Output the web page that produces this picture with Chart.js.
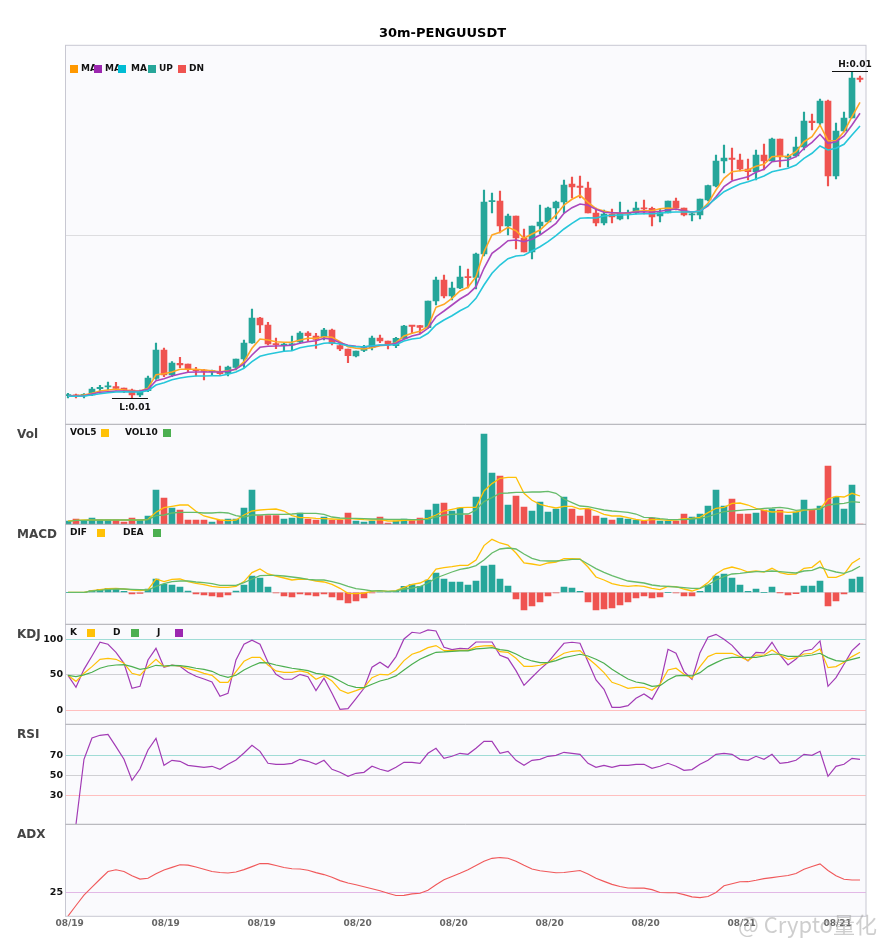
<!DOCTYPE html>
<html>
<head>
<meta charset="utf-8">
<style>
  html, body { margin: 0; padding: 0; background: #fff; }
  canvas { display: block; }
</style>
<script src="https://cdn.jsdelivr.net/npm/chart.js@4/dist/chart.umd.min.js"></script>
</head>
<body>
<canvas id="kline" width="885" height="950"></canvas>
<script>
// price is in relative units, the real quote isn't readable off the picture
const open = [
  29.3,29.6,29,30,36.3,38,38.3,37,35,30,
  34.3,46.7,75,50,61.7,61,55,54.3,53.3,53.3,
  51.7,57.7,66,82,107,100,81.3,79.7,80,83,
  92,89,88.3,95,79.3,76,69,74.7,77.3,87,
  84,79.3,86.7,99.3,99.3,97.3,124,145,129,137,
  148,147.7,171,223.3,224,199,209,187,173,199,
  203,217,223,241,238,237,212,202,211,206,
  211,212,217,216.7,209,212,224,217,210,210,
  225,239,264,266.7,265,256,253.3,270,264,286,
  267,269,278,304,302,324,249,294,307,346.7];
const close = [
  29.6,29,30.7,36,37.7,38.4,36.7,35.3,30,33,
  47,75,50,62,60,55.7,54.3,53.7,54,51.3,
  58,66,82,107,100,81,80.3,80.7,81,92,
  89.3,85.7,95,81.7,76,69.3,74,77.3,87,84,
  80.3,86.7,99,98.7,97.7,124,145,129,137,148,
  147.3,171,223,224,199,209,187,173,199,203,
  217,223,240,238,237.7,212,202,211,208,211.7,
  212,217,216,208,212.3,224,217,210,210.7,226,
  239.3,264,267,265.7,256,253.3,270,264,286,268,
  269,278,304,302.3,324,249,294,307,347,345.7];
const high = [
  31.7,31,31.5,37.7,39.7,43,42.7,37,36,35,
  49,82,77,63.3,67.7,61,57.7,55.7,55,59,
  59,66,85,116,107.7,102.7,87,81.7,89,93.3,
  93.3,91.7,96.7,96,81.7,76,74,79.7,89,90,
  84,87.7,99.7,99.7,99.7,124,148,150,143,159,
  156,172,235,232,234,211,209,196,199,220,
  218,224,245,248,249,243,217,215,216,223,
  215,223,225,218,216,224,227,217,213,226,
  240,270,280,277,271,266,275,281,287,286,
  271,288,313,311,326,325,302,313,353.5,349];
const low = [
  27,27,27,29.3,34,35,35,32.3,26.7,28.3,
  33.3,45.7,48.3,48.3,57.3,53.3,49,45,50.3,50.7,
  49,55,57.7,81.7,92.3,80,76.3,74,74.3,81.7,
  83.3,76.7,85,80,74.3,62.3,68,73.3,75,82.3,
  76,77.3,86.7,91.7,91.7,96.7,120,127,125,136.3,
  137,136,169,212,192,190,176,173,166,191,
  203,206,212,227,227,212,199,200,202,205,
  206,211,211,199,203,212,215,209,204,206,
  224,238,252,245,254,245,245,255,264,258,
  258,268,275,295,300,239,246,293,307,343];

const ma1 = [
  29.3,29.3,30,31.7,34,35,35.7,35,34.3,34,36.7,50.3,51.3,53,55.7,55.7,55.7,55,54.3,53.3,54.3,55.7,63.3,76.7,86,85,83.3,82.7,82.7,85,86.7,86.7,88.3,
  87.7,83.3,78.3,76.7,76,77.3,79.3,80,82.3,89,91.7,93.7,98.3,117.7,120.7,126.7,134,137.7,148.3,173.3,190,192.7,197.7,194.3,186.7,191,195,202.3,210,220,225.7,229.7,222.7,216.3,
  214,212.3,211.7,211.7,213.7,214.3,214.3,216.3,217,216.3,213.7,212.7,214,221.7,235,246.7,253.3,254.3,255,258.7,260.7,268.3,269,268.3,273.3,283.3,288.3,300,284.3,284.3,293.3,308.3,322.7];
const ma2 = [
  29,29,29.3,31,32.7,33.3,34,34,33.7,34,35.7,44.3,46.3,49,51,52.7,53,53,53,53,53.7,56,61,70,77.7,78.7,79,79.3,79.7,81.7,83.3,84.3,86.7,
  85.7,82.3,79.7,78.7,78,79,79.7,80,81.7,85.7,89,91,96.7,108.3,114,120,126,130.7,138.3,156.7,171.7,177.7,184.3,185,183.3,185.7,190,195.7,201.7,211.7,217.3,221,219.7,215.7,
  212.7,212.3,212,212.3,213,213.3,212.7,213.7,215,216,214.3,213,214,219,228.3,238.3,244,246.3,248.3,252.7,255.7,263.3,264.3,265,268.3,276.7,282.7,290.7,281.7,283.3,289,300,311.7];
const ma3 = [
  28.7,28.7,29,30,31.3,32.3,33,33.3,33,33,34.3,40,42.3,45.3,47,48.3,49,49,49.3,49.3,50.7,53,56.7,63.3,68.7,70.7,72.3,73.7,74.3,77.3,78.7,79.7,81.7,
  82.3,81,79.3,78.3,78.3,79.3,80,80,80.3,84,86,87,91.7,100,105,109.3,114.3,118.3,126.7,140,151.7,160,166.3,169,169.7,174,178.3,183.3,189.3,196,201.7,206.7,207.3,207,
  209,209.7,210,210.3,211,211.3,211.3,211.7,212.7,213,213,213,213.7,220,226.7,233.3,237.3,241,243.3,246,249,253.3,255,256.7,260,266.7,271.7,279,275,276.7,280.7,290,299];

const vol = [
  3.3,5.3,3.3,6.3,4.3,4.3,4.3,2.3,6.3,4.3,8.3,34.3,26.3,16.3,14.3,4.3,4.3,4.3,2.3,4.3,5.3,5.3,16.3,34.3,8.7,8.7,8.7,5.3,6.3,11.3,
  5.3,4.3,7.3,4.3,4.3,11.3,3.3,2.3,3.3,7.3,1.3,3.3,5.3,3.7,6.3,14.3,20.3,21.3,13.3,16.3,9.3,27.3,90.3,51.3,48.3,19.3,28.3,17.3,13.3,22.3,12.3,15.3,27.3,15.3,8.3,15.3,8.3,
  6.3,4.3,6.3,5.3,4.3,3.3,6.3,3.3,3.3,3.3,10.3,7.3,10.3,18.3,34.3,18.3,25.3,10.3,10.3,11.3,14.3,15.3,14.3,9.3,12.3,24.3,14.3,18.3,58.3,27.3,15.3,39.3,0.3];
const vol5 = [
  3.3,4,4.3,4.3,4.3,4.3,4.3,4.3,4.3,4.3,5,12,16.7,18,19.3,19.3,13,8.3,6.3,4.3,3.7,4.3,9.3,13.3,14.3,15,15.3,13.3,8.7,6.7,
  6.7,6,5.7,5.3,5,6,5.3,4.7,4.3,4.7,3.3,3.3,4,4.3,4.7,6,9.3,13.3,15,16.7,17,17,33.3,40.7,46,47,47,31,24,20,18,16.3,18,18,15.3,16,13.3,
  10,8.3,8.3,6.7,5,3.7,4.7,4.7,4,4.3,5.7,6,7,11.7,16,17,21,21.3,19.3,16,14,12.3,12.7,12,12.3,14.3,14.7,15.3,25.3,28,27.3,31,28.3];
const vol10 = [
  2.7,4,4,4.3,4.3,4.3,4.3,4.3,4.3,4.3,4.7,8.7,9.3,11.3,12,12,12,11.3,11.3,12,11.3,8.7,7.3,9.3,9.3,10,10,10,10.3,11,
  11,11,10,7.3,6.3,6,6,5.7,5.3,5.3,5,5,5,4.7,4.7,5,7.3,9.3,10,10.3,10.3,14.3,22.7,26.7,31,31.3,32,32,32.3,32.3,33,31,25.3,21.7,18.3,17.7,16,
  14.3,13.3,12.7,12,10.3,7,6.7,5.7,5,4.7,4.7,5.3,6,7.7,10.3,12.7,13.3,14,14.7,15,16,16.3,17,16,14,14.7,15,15.3,19.3,20.3,21,22.7,22];

const macdHist = [
  0,0,0,1.7,3,4,3.3,1,-1.7,-1,3.3,13.3,8,7.3,5.3,1.3,-1.7,-2.7,-3.7,-4.7,-2.7,1.3,7.3,16.3,14.3,5.3,-0.7,-3.7,-4.7,-1.5,
  -2.7,-3.7,-1.7,-4.7,-7.7,-10.7,-8.7,-5.7,-0.7,0.3,0.3,1,6,7.7,6,12.3,19.3,13.3,10.3,10.3,7.3,11.3,26.3,27.3,13.3,6.3,-6.7,-17.7,-13.7,-9.7,-3.7,-0.7,5.3,4.3,1,-9.7,-17.7,
  -16.7,-15.7,-12.7,-9.7,-5.7,-3.7,-5.7,-4.7,0,-0.7,-3.7,-3.7,1,7.3,16.3,18.3,14.3,7.3,1,3.3,0,5.3,-0.3,-2.7,-1.3,6.3,6.3,11.3,-13.7,-8.7,-1.7,13.3,15.3];
const dif = [
  0,0,0,1.7,2.7,3.7,4,3.3,2.3,1.7,2.7,13.3,10.7,13,13.3,10.7,9,7.7,6,5,5,6,10.7,19.7,23.3,18.3,16.3,14.3,12.3,13.3,
  13,11.3,10.3,8,4,-1,-1.3,-0.7,1,1.7,1,1.7,5,8,9.3,13,23.3,24.7,25.7,27,27,32.3,46.7,53,49.3,47.3,39.3,29.3,28.3,27,29.3,30.3,33.7,33.7,33.3,25.3,15.3,
  12.3,8.7,7,6,6.7,6,4,2.7,6,5.7,3.3,1.3,4,9.7,18.3,23.3,25.3,23.3,20.3,21.3,20.3,24,19.7,18,18.3,24,25,31.3,15,15,18,29,34];
const dea = [
  0,0,0,1.3,2,3,3.3,3.3,3,2.7,2.3,6,8.7,10.7,11.3,11.3,10.3,9.7,8.7,7,7,7,9.7,13.3,16.7,17,17,16.3,15.3,14.3,
  13,12.3,12.3,10.7,8.7,6,3.7,2.7,1.3,1.7,1,1.3,3.3,4.3,5.7,9.3,14.3,17.3,20.3,23,24.3,26.7,32.3,39.3,43.3,44.3,43.3,38.3,34,31.7,31.3,31.3,32,33,33,28.3,23.7,
  20,16.7,14,11.3,10.3,9.3,7.3,6.3,6,5.3,4.7,4,4,7.3,12.3,15.7,18.3,19,20,20.7,20.7,21.3,20.7,20,19.3,21.3,22,25,22.3,20.3,19,21.7,26];

const kLine = [
  49.3,40.8,52.1,61.5,71.8,73.2,71.8,66.2,52.1,49.3,61.5,71.8,61.5,63.4,62.4,58.7,55.9,52.1,49.3,39.4,39.4,54.5,69,74.6,74.6,63.8,55.4,53.5,53.5,55.4,
  53,43.7,48.8,41.3,28.6,24,27.7,31.9,46,50.7,49.8,56.8,70,78.9,82.6,88.3,91.1,84,84,84.5,84.5,89.2,90.6,91.1,82.6,81.7,73.2,61.9,61.9,63.4,67.1,73.7,80.3,83.1,84,73.2,63.8,
  53,39.4,35.7,31,32.4,32.4,28.2,36.6,56.8,59.2,50.7,45.1,61.5,75.6,80.3,80.3,80.3,75.6,70,77.9,77.5,85,77.9,71.8,74.2,79.3,80.3,86.4,60.1,61.5,67.6,75.6,81.7];
const dLine = [
  49.3,47.4,49.8,53.5,59.2,62.4,63.8,64.3,61.5,57.7,59.6,63.4,62.4,63.4,62.9,61.5,59.2,57.7,54.9,49.3,46.5,49.3,56.8,62.4,67.1,66.7,63.8,61.5,59.2,57.7,
  55.9,52.1,50.7,47.4,41.3,35.2,32.4,31.9,36.6,41.3,44.1,48.4,56.8,64.8,71.8,77,81.7,82.2,83.1,83.6,83.6,86.4,87.3,88.3,85.4,84,79.3,73.2,69.5,67.1,67.1,69.9,74.2,76.5,78.9,76.5,71.8,
  66.2,57.7,50.7,44.1,39.9,38,33.8,34.7,42.7,48.4,49.3,48.4,53,61.5,67.1,72.3,74.6,74.6,74.6,74.6,76.5,78.9,78.9,76,76,76.5,77.9,80.3,74.2,70,69,71.8,74.6];
const jLine = [
  49.3,32.4,57.7,76.5,95.8,93,81.7,66.2,31,33.8,70.9,87.3,60.6,63.8,62,53.5,47.9,44.1,39.9,19.7,23.9,70.9,93,98.6,93,67.6,50.7,43.7,43.7,50.7,
  47.4,27.7,45.1,23.9,1.4,2.3,16.4,31,60.6,67.6,60.1,75.6,100.5,109.9,108.5,113.1,111.7,88.7,85.4,87.3,86.4,96.2,96.2,96.2,77.5,73.2,55.9,35.2,46.5,57.7,67.6,81.2,94.4,95.8,94.4,68.5,42.7,
  29.6,4.2,4.2,6.6,16.9,23,15.5,35.7,85.9,80.3,54.5,43.7,81.2,102.8,107,100,91.5,78.9,69.5,81.7,80.8,95.8,77.9,63.8,72.3,83.6,85.9,97.7,33.8,46,64.8,84,94.4];

const rsi = [
  null,1,66,87.3,90,91,78.7,66,45,56.3,75.3,87,60,65,64,60,59,58,59,56,61,65.3,72.3,80,74,62,61,61,62,66,
  64,61,65,56,53,49,52,53,59,56,54,58,63,63,62,72,77,67,69,72,71,77,84,84,72,74,65,60,65,66,69,70,73,72,71,62,58,
  60,58,60,60,61,61,57,59,62,59,55,55.7,61,65,71,72,71,66,65,69,66,71,62,63,65,71,70,74,49,59,61,67,66];
const adx = [
  9.1,16.2,23.1,28.4,33.6,38.7,39.9,38.8,36,33.7,34.3,37.2,39.8,41.5,43.2,43,41.8,40.3,38.7,38.1,
  37.8,38.4,40,42,44.1,44,42.7,41.4,40.6,40.4,39.6,38,36.7,34.9,32.7,31.1,29.9,28.6,27.3,26,
  24.3,22.8,22.9,23.9,24.3,26.3,30,33.2,35.5,37.6,39.9,42.8,45.5,47.5,48,47.6,45.6,42.9,40.4,39.3,
  38.6,37.9,38.1,38.8,39.4,37.1,34.2,32.2,30.2,28.8,27.8,27.7,27.7,26.7,24.8,24.6,24.6,23.4,21.9,21.4,
  22.1,24.8,29.3,30.6,31.9,32,32.9,34,34.7,35.4,36.1,37.4,40.2,42.1,43.8,39.4,36,33.6,33.1,33.1];

const dateLabels = ['08/19','08/19','08/19','08/20','08/20','08/20','08/20','08/21','08/21'];
const dateTicks = [0.2,12.2,24.2,36.2,48.2,60.2,72.2,84.2,96.2];

const UP = '#26a69a';
const DN = '#ef5350';
const FONT = '"DejaVu Sans"';

const xy = arr => arr.map((v, i) => ({ x: i, y: v }));
const upOrDn = i => (close[i] >= open[i] ? UP : DN);

function lineSet(arr, color, yAxisID, width) {
  return {
    type: 'line', data: xy(arr), yAxisID, borderColor: color, borderWidth: width,
    pointRadius: 0, tension: 0, order: 0, spanGaps: false,
  };
}

function barSet(data, colors, yAxisID, thickness, order, minLen) {
  return {
    type: 'bar', data, yAxisID, backgroundColor: colors, borderWidth: 0,
    barThickness: thickness, grouped: false, order, minBarLength: minLen,
  };
}

const datasets = [
  barSet(high.map((h, i) => ({ x: i, y: [low[i], h] })), high.map((h, i) => upOrDn(i)), 'yMain', 1.5, 3, 1.2),
  barSet(open.map((o, i) => ({ x: i, y: [o, close[i]] })), open.map((o, i) => upOrDn(i)), 'yMain', 6, 2, 1.2),
  lineSet(ma3, '#26c6da', 'yMain', 1.6),
  lineSet(ma2, '#ab47bc', 'yMain', 1.6),
  lineSet(ma1, '#ffa726', 'yMain', 1.6),

  barSet(xy(vol), vol.map((v, i) => upOrDn(i)), 'yVol', 6, 2, 0),
  lineSet(vol10, '#66bb6a', 'yVol', 1.3),
  lineSet(vol5, '#ffc107', 'yVol', 1.3),

  barSet(xy(macdHist), macdHist.map(v => (v >= 0 ? UP : DN)), 'yMacd', 6, 2, 0),
  lineSet(dea, '#66bb6a', 'yMacd', 1.3),
  lineSet(dif, '#ffc107', 'yMacd', 1.3),

  lineSet(dLine, '#4caf50', 'yKdj', 1.2),
  lineSet(kLine, '#ffc107', 'yKdj', 1.2),
  lineSet(jLine, '#a23bb5', 'yKdj', 1.2),

  lineSet(rsi, '#a23bb5', 'yRsi', 1.2),
  lineSet(adx, '#f0585a', 'yAdx', 1.1),
];

// one stacked y axis per panel, guide lines come from the axis grid
function panelAxis(weight, stackWeight, min, max, guides, showLabels) {
  return {
    type: 'linear', position: 'left', stack: 'panels', stackWeight, weight, min, max,
    border: { display: false },
    grid: {
      drawTicks: false,
      color: ctx => (guides[ctx.tick.value] || 'transparent'),
      lineWidth: 1,
    },
    ticks: {
      display: showLabels, autoSkip: false, padding: 2.5, color: '#111',
      font: { family: FONT, size: 9.5, weight: 'bold' },
    },
    afterBuildTicks: s => { s.ticks = Object.keys(guides).map(v => ({ value: +v })); },
    afterFit: s => { s.width = 65.5; },
  };
}

const panelNames = [['Vol', 'yVol'], ['MACD', 'yMacd'], ['KDJ', 'yKdj'], ['RSI', 'yRsi'], ['ADX', 'yAdx']];
const panelKeys = {
  yVol:  [['VOL5', 70, '#ffc107', 101], ['VOL10', 125, '#4caf50', 163]],
  yMacd: [['DIF', 70, '#ffc107', 97], ['DEA', 123, '#4caf50', 153]],
  yKdj:  [['K', 70, '#ffc107', 87], ['D', 113, '#4caf50', 131], ['J', 157, '#9c27b0', 175]],
  yMain: [['MA', 81, '#ff9800', 70], ['MA', 105, '#9c27b0', 94], ['MA', 131, '#00bcd4', 118], ['UP', 159, UP, 148], ['DN', 189, DN, 178]],
};

const frame = {
  id: 'frame',
  beforeDraw(chart) {
    const { ctx, chartArea: a } = chart;
    ctx.save();
    ctx.fillStyle = '#fff';
    ctx.fillRect(0, 0, chart.width, chart.height);
    ctx.fillStyle = '#fafafd';
    ctx.fillRect(a.left, a.top, a.width, a.height);
    ctx.restore();
  },
  afterDatasetsDraw(chart) {
    const { ctx, chartArea: a, scales } = chart;
    ctx.save();
    ctx.strokeStyle = '#c8c8d2';
    ctx.lineWidth = 1;
    ctx.strokeRect(a.left, a.top, a.width, a.height);
    ctx.strokeStyle = '#aaaab0';
    panelNames.forEach(([, id]) => {
      const y = scales[id].top;
      ctx.beginPath(); ctx.moveTo(a.left, y); ctx.lineTo(a.right, y); ctx.stroke();
    });
    ctx.restore();
  },
  afterDraw(chart) {
    const { ctx, scales } = chart;
    ctx.save();
    ctx.textBaseline = 'middle';

    ctx.fillStyle = '#000';
    ctx.textAlign = 'center';
    ctx.font = `bold 13px ${FONT}`;
    ctx.fillText('30m-PENGUUSDT', 442.5, 34);
    ctx.textAlign = 'left';

    // panel names in the left gutter
    ctx.fillStyle = '#444';
    ctx.font = `bold 12px ${FONT}`;
    panelNames.forEach(([name, id]) => ctx.fillText(name, 17, scales[id].top + 11));

    // small legends
    ctx.font = `bold 9px ${FONT}`;
    Object.keys(panelKeys).forEach(id => {
      const top = id === 'yMain' ? scales[id].top + 19.7 : scales[id].top + 4.7;
      panelKeys[id].forEach(([label, textX, color, boxX]) => {
        ctx.fillStyle = '#111';
        ctx.fillText(label, textX, top + 4);
        ctx.fillStyle = color;
        ctx.fillRect(boxX, top, 8, 8);
      });
    });

    // high / low markers
    const x = scales.x, y = scales.yMain;
    const hi = high.indexOf(Math.max(...high)), lo = low.indexOf(Math.min(...low));
    ctx.strokeStyle = '#111';
    ctx.fillStyle = '#111';
    ctx.textAlign = 'center';
    [[hi, high[hi], 'H:0.01', -7], [lo, low[lo], 'L:0.01', 9]].forEach(([i, v, text, dy]) => {
      const px = x.getPixelForValue(i), py = Math.round(y.getPixelForValue(v)) + 0.5;
      ctx.beginPath(); ctx.moveTo(px - 20, py); ctx.lineTo(px + 16, py); ctx.stroke();
      ctx.fillText(text, px + 3, py + dy);
    });

    // watermark of the repost
    ctx.textAlign = 'left';
    ctx.fillStyle = 'rgba(165,165,165,0.55)';
    ctx.font = '22px "Noto Sans CJK SC"';
    ctx.fillText('@ Crypto量化', 738, 925);
    ctx.restore();
  },
};

new Chart(document.getElementById('kline'), {
  data: { datasets },
  plugins: [frame],
  options: {
    responsive: false,
    animation: false,
    layout: { padding: { top: 45.3, right: 19 } },
    plugins: {
      legend: { display: false },
      tooltip: { enabled: false },
    },
    scales: {
      x: {
        type: 'linear', min: -0.31, max: 99.75, position: 'bottom', offset: false,
        border: { display: false },
        grid: { display: false, drawTicks: false, offset: false },
        ticks: {
          autoSkip: false, maxRotation: 0, padding: 1.5, color: '#666',
          font: { family: FONT, size: 9, weight: 'bold' },
          callback: (v, i) => dateLabels[i],
        },
        afterBuildTicks: s => { s.ticks = dateTicks.map(v => ({ value: v })); },
        afterFit: s => { s.height = 33.7; },
      },
      yMain: panelAxis(6, 379, 0.7, 379.7, { 190: '#dddde0' }, false),
      yVol:  panelAxis(5, 100, 0, 100, {}, false),
      yMacd: panelAxis(4, 100, -32, 68, { 0: '#dddde0' }, false),
      yKdj:  panelAxis(3, 100, -19.7, 121.1, { 100: '#a0dcd6', 50: '#d0d0d4', 0: '#ffbfbf' }, true),
      yRsi:  panelAxis(2, 100, 1, 101, { 70: '#a0dcd6', 50: '#d0d0d4', 30: '#ffbfbf' }, true),
      yAdx:  panelAxis(1, 92, 9, 70.1, { 25: '#e2b8e6' }, true),
    },
  },
});
</script>
</body>
</html>
